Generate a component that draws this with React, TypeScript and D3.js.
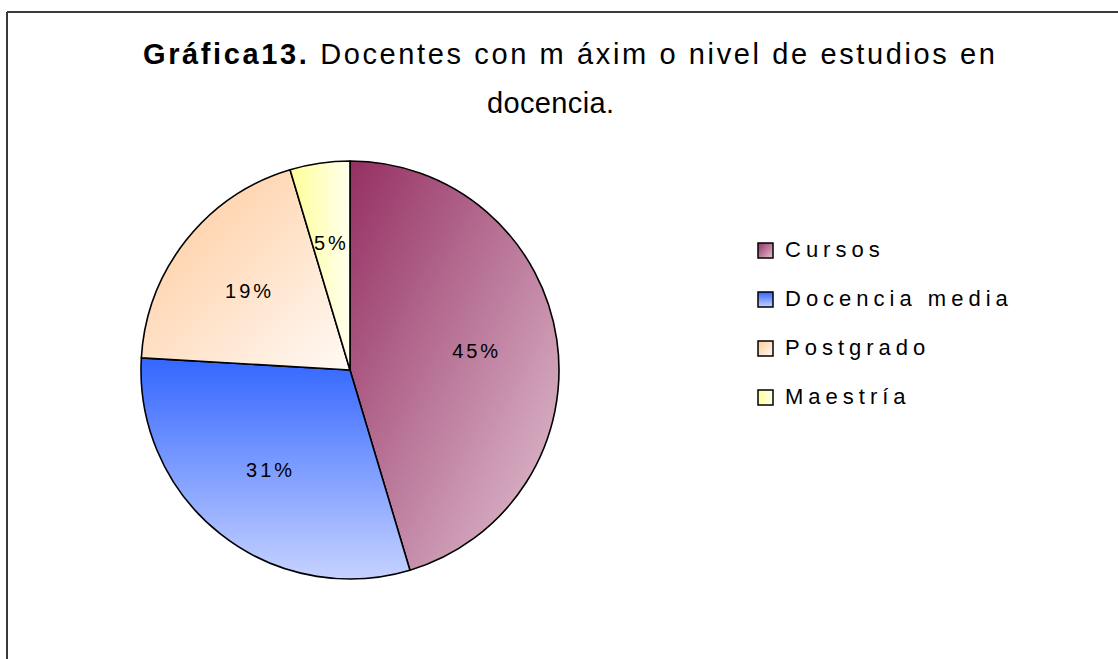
import React from 'react';
import * as d3 from 'd3';

// Values (counts that give 45 / 31 / 19 / 5 %)
const categories = ['Cursos', 'Docencia media', 'Postgrado', 'Maestría'];
const counts = [49, 33, 21, 5];
const pctLabels = ['45%', '31%', '19%', '5%'];

const titleBold = 'Gráfica13.';
const titleRest = ' Docentes con m áxim o nivel de estudios en';
const titleLine2 = 'docencia.';

const W = 1118;
const H = 659;
const cx = 350;
const cy = 370;
const radius = 209;

// gradient per slice (objectBoundingBox direction)
const gradients = [
    { id: 'g0', from: '#953063', to: '#e2c4d3', x1: 0, y1: 0, x2: 1, y2: 1 },
    { id: 'g1', from: '#3366ff', to: '#c6d2ff', x1: 0, y1: 0, x2: 0, y2: 1 },
    { id: 'g2', from: '#ffc898', to: '#fffaf5', x1: 0, y1: 0, x2: 1, y2: 1 },
    { id: 'g3', from: '#ffff99', to: '#ffffee', x1: 0, y1: 0, x2: 1, y2: 0 },
];

const font = '"Liberation Sans", Arial, sans-serif';

export default function App() {
    const pie = d3.pie<number>().sort(null).value(d => d);
    const arcs = pie(counts);
    const arc = d3.arc<d3.PieArcDatum<number>>().innerRadius(0).outerRadius(radius);
    const labelArc = d3.arc<d3.PieArcDatum<number>>().innerRadius(128).outerRadius(128);

    const legendY = d3.scaleBand<string>().domain(categories).range([232, 428]);

    return (
        <svg width={W} height={H} style={{ position: 'absolute', left: 0, top: 0, background: '#fff' }}>
            <defs>
                {gradients.map(g => (
                    <linearGradient key={g.id} id={g.id} x1={g.x1} y1={g.y1} x2={g.x2} y2={g.y2}>
                        <stop offset="0%" stopColor={g.from} />
                        <stop offset="100%" stopColor={g.to} />
                    </linearGradient>
                ))}
            </defs>

            {/* frame: only top and left edges show */}
            <line x1={7} y1={12} x2={W} y2={12} stroke="#3a3a3a" strokeWidth={2} />
            <line x1={7} y1={12} x2={7} y2={H} stroke="#3a3a3a" strokeWidth={2} />

            {/* title */}
            <text x={143} y={64} fontFamily={font} fontSize={29} fill="#000" textLength={852} lengthAdjust="spacing">
                <tspan fontWeight="bold">{titleBold}</tspan>
                <tspan>{titleRest}</tspan>
            </text>
            <text x={487} y={113} fontFamily={font} fontSize={29} fill="#000" textLength={127} lengthAdjust="spacing">
                {titleLine2}
            </text>

            {/* pie */}
            <g transform={`translate(${cx},${cy})`}>
                {arcs.map((a, i) => (
                    <path key={i} d={arc(a) || ''} fill={`url(#${gradients[i].id})`} stroke="#000" strokeWidth={1.6} strokeLinejoin="round" />
                ))}
                {arcs.map((a, i) => {
                    const [lx, ly] = labelArc.centroid(a);
                    return (
                        <text key={i} x={lx} y={ly} dy="0.35em" textAnchor="middle" fontFamily={font} fontSize={20} letterSpacing={3} fill="#000">
                            {pctLabels[i]}
                        </text>
                    );
                })}
            </g>

            {/* legend */}
            {categories.map((c, i) => {
                const y0 = legendY(c) as number;
                return (
                    <g key={c}>
                        <rect x={758} y={y0 + 11} width={15} height={15} fill={`url(#${gradients[i].id})`} stroke="#000" strokeWidth={1.5} />
                        <text x={785} y={y0 + 25} fontFamily={font} fontSize={22} letterSpacing={5} fill="#000">
                            {c}
                        </text>
                    </g>
                );
            })}
        </svg>
    );
}
